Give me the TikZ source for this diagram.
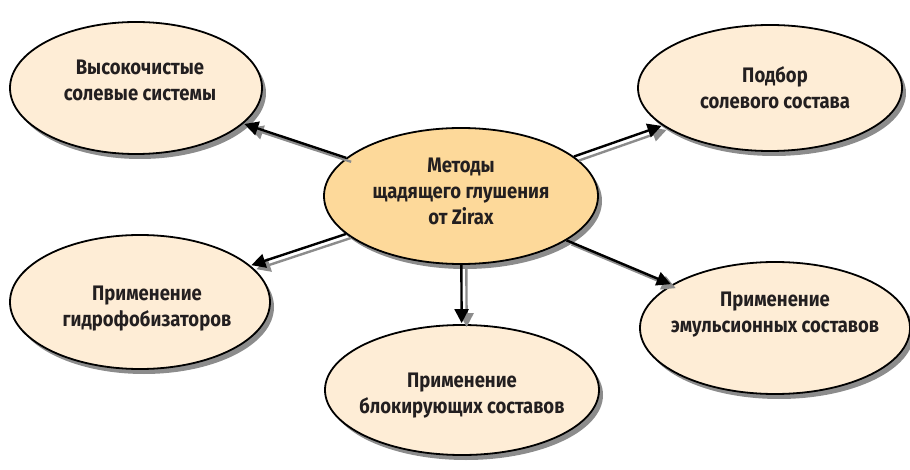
\documentclass[tikz,border=0pt]{standalone}
\usepackage{fontspec}
\setmainfont{Fira Sans}[FakeStretch=0.88]
\usetikzlibrary{shapes.geometric,arrows.meta,shadows}
\definecolor{centerfill}{HTML}{FDD99A}
\definecolor{outerfill}{HTML}{FEEDD6}
\definecolor{ink}{HTML}{231F20}
\definecolor{shadowgray}{HTML}{8C8C8C}
\tikzset{
  bubble/.style={ellipse, draw=black, line width=1.8pt, fill=outerfill, inner sep=0pt,
    drop shadow={shadow xshift=4pt, shadow yshift=-5pt, fill=shadowgray, opacity=1}},
  hub/.style={bubble, fill=centerfill},
  lbl/.style={align=center, font=\bfseries\fontsize{21}{26}\selectfont, text=ink, inner sep=0pt},
  link/.style={line width=2.4pt, draw=black, -{Triangle[length=14pt,width=14pt]}, shorten >=1pt, shorten <=0pt},
  linkshadow/.style={line width=2.4pt, draw=shadowgray, -{Triangle[length=14pt,width=14pt]}, shorten >=1pt,
    transform canvas={xshift=5pt,yshift=-4pt}}
}
\begin{document}
\begin{tikzpicture}[x=1pt,y=-1pt]
\useasboundingbox (0,0) rectangle (910,470);
\node[bubble, minimum width=252pt, minimum height=132pt] (tl) at (136,88) {};
\node[bubble, minimum width=264pt, minimum height=126pt] (tr) at (770,88) {};
\node[bubble, minimum width=260pt, minimum height=134pt] (ml) at (140,302) {};
\node[bubble, minimum width=270pt, minimum height=132pt] (br) at (775,328) {};
\node[bubble, minimum width=274pt, minimum height=130pt] (bm) at (462,390) {};
\node[hub, minimum width=274pt, minimum height=136pt] (c) at (461,196) {};

\node[lbl] (ttl) at (140,80) {Высокочистые\\солевые системы};
\node[lbl] (ttr) at (775,88) {Подбор\\солевого состава};
\node[lbl] (tc) at (461,191) {Методы\\щадящего глушения\\от Zirax};
\node[lbl] (tml) at (147,309) {Применение\\гидрофобизаторов};
\node[lbl] (tbr) at (775,315) {Применение\\эмульсионных составов};
\node[lbl] (tbm) at (462,396) {Применение\\блокирующих составов};

\foreach \t in {tl,tr,ml,br,bm}{
  \draw[linkshadow] (c) -- (\t);
}
\foreach \t in {tl,tr,ml,br,bm}{
  \draw[link] (c) -- (\t);
}
\end{tikzpicture}
\end{document}
